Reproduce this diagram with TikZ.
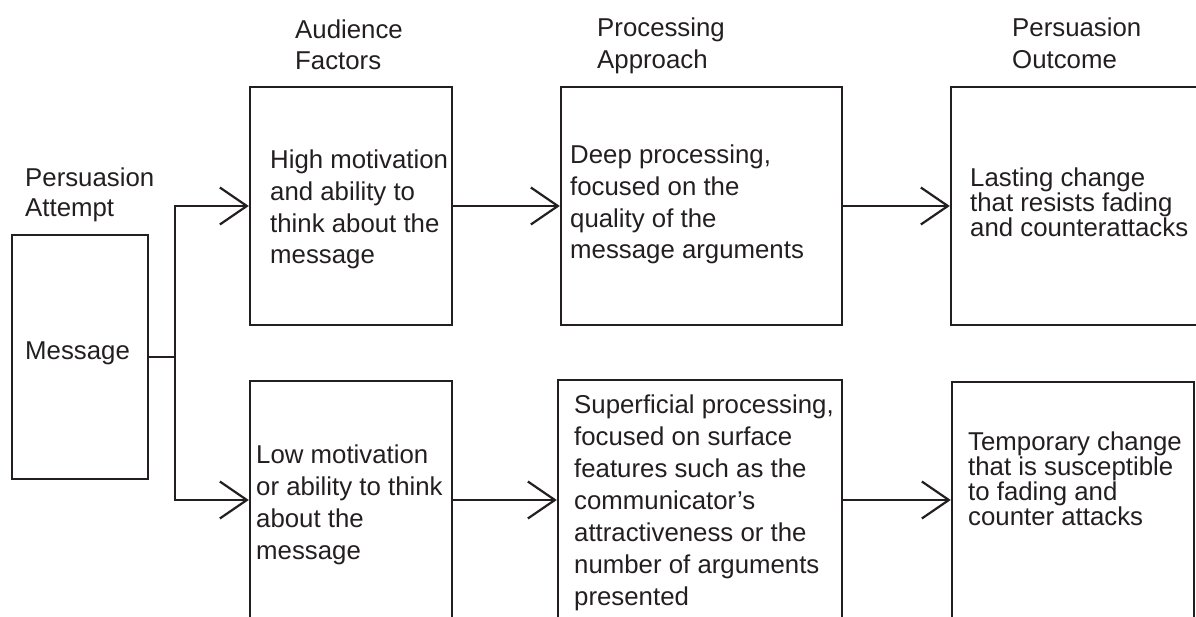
\documentclass[tikz,border=0pt]{standalone}
\usepackage{fontspec}
\setmainfont{Liberation Sans}
\usetikzlibrary{arrows.meta}
\definecolor{ink}{RGB}{35,31,32}

\begin{document}
\begin{tikzpicture}[x=1pt, y=-1pt, color=ink,
  box/.style={draw, line width=2.4pt, rectangle, inner sep=0pt},
  lbl/.style={anchor=north west, inner sep=0pt, align=left, font=\fontsize{25.8}{#1}\selectfont},
  flow/.style={line width=2.2pt, -{Straight Barb[length=27pt, width=37pt]}}]
     % 枠
     \useasboundingbox (0,0) rectangle (1196,617);
     \clip (0,0) rectangle (1196,617);

     % 見出し
     \node [lbl=30] (hAtt) at (25,168) {Persuasion\\Attempt};
     \node [lbl=31] (hAud) at (295,20) {Audience\\Factors};
     \node [lbl=32] (hProc) at (597,18) {Processing\\Approach};
     \node [lbl=32] (hOut) at (1012,18) {Persuasion\\Outcome};

     % 箱
     \node [box, minimum width=136pt, minimum height=244pt] (msg) at (80,357) {};
     \node [box, minimum width=202pt, minimum height=238pt] (high) at (351,206) {};
     \node [box, minimum width=281pt, minimum height=238pt] (deep) at (701.5,206) {};
     \node [box, minimum width=289pt, minimum height=238pt] (last) at (1095.5,206) {};
     \node [box, minimum width=202pt, minimum height=238pt] (low) at (351,500) {};
     \node [box, minimum width=284pt, minimum height=240pt] (surf) at (700,500) {};
     \node [box, minimum width=242pt, minimum height=236pt] (temp) at (1073,500) {};

     % 箱の文
     \node [lbl=31.7] (tMsg) at (25,342) {Message};
     \node [lbl=31.7] (tHigh) at (270,150) {High motivation\\and ability to\\think about the\\message};
     \node [lbl=31.7] (tDeep) at (570,145) {Deep processing,\\focused on the\\quality of the\\message arguments};
     \node [lbl=23.5] (tLast) at (970,168) {Lasting change\\that resists fading\\and counterattacks};
     \node [lbl=32] (tLow) at (256,445) {Low motivation\\or ability to think\\about the\\message};
     \node [lbl=32] (tSurf) at (574,395) {Superficial processing,\\focused on surface\\features such as the\\communicator’s\\attractiveness or the\\number of arguments\\presented};
     \node [lbl=25] (tTemp) at (968,432) {Temporary change\\that is susceptible\\to fading and\\counter attacks};

     % 矢印
     \coordinate (split) at (175,357);
     \draw [line width=2.2pt] (msg.east) -- (split);
     \draw [flow] (split) |- (high.west);
     \draw [flow] (split) |- (low.west);
     \draw [flow] (high.east) -- (deep.west);
     \draw [flow] (deep.east) -- (last.west);
     \draw [flow] (low.east) -- (surf.west);
     \draw [flow] (surf.east) -- (temp.west);
\end{tikzpicture}
\end{document}
